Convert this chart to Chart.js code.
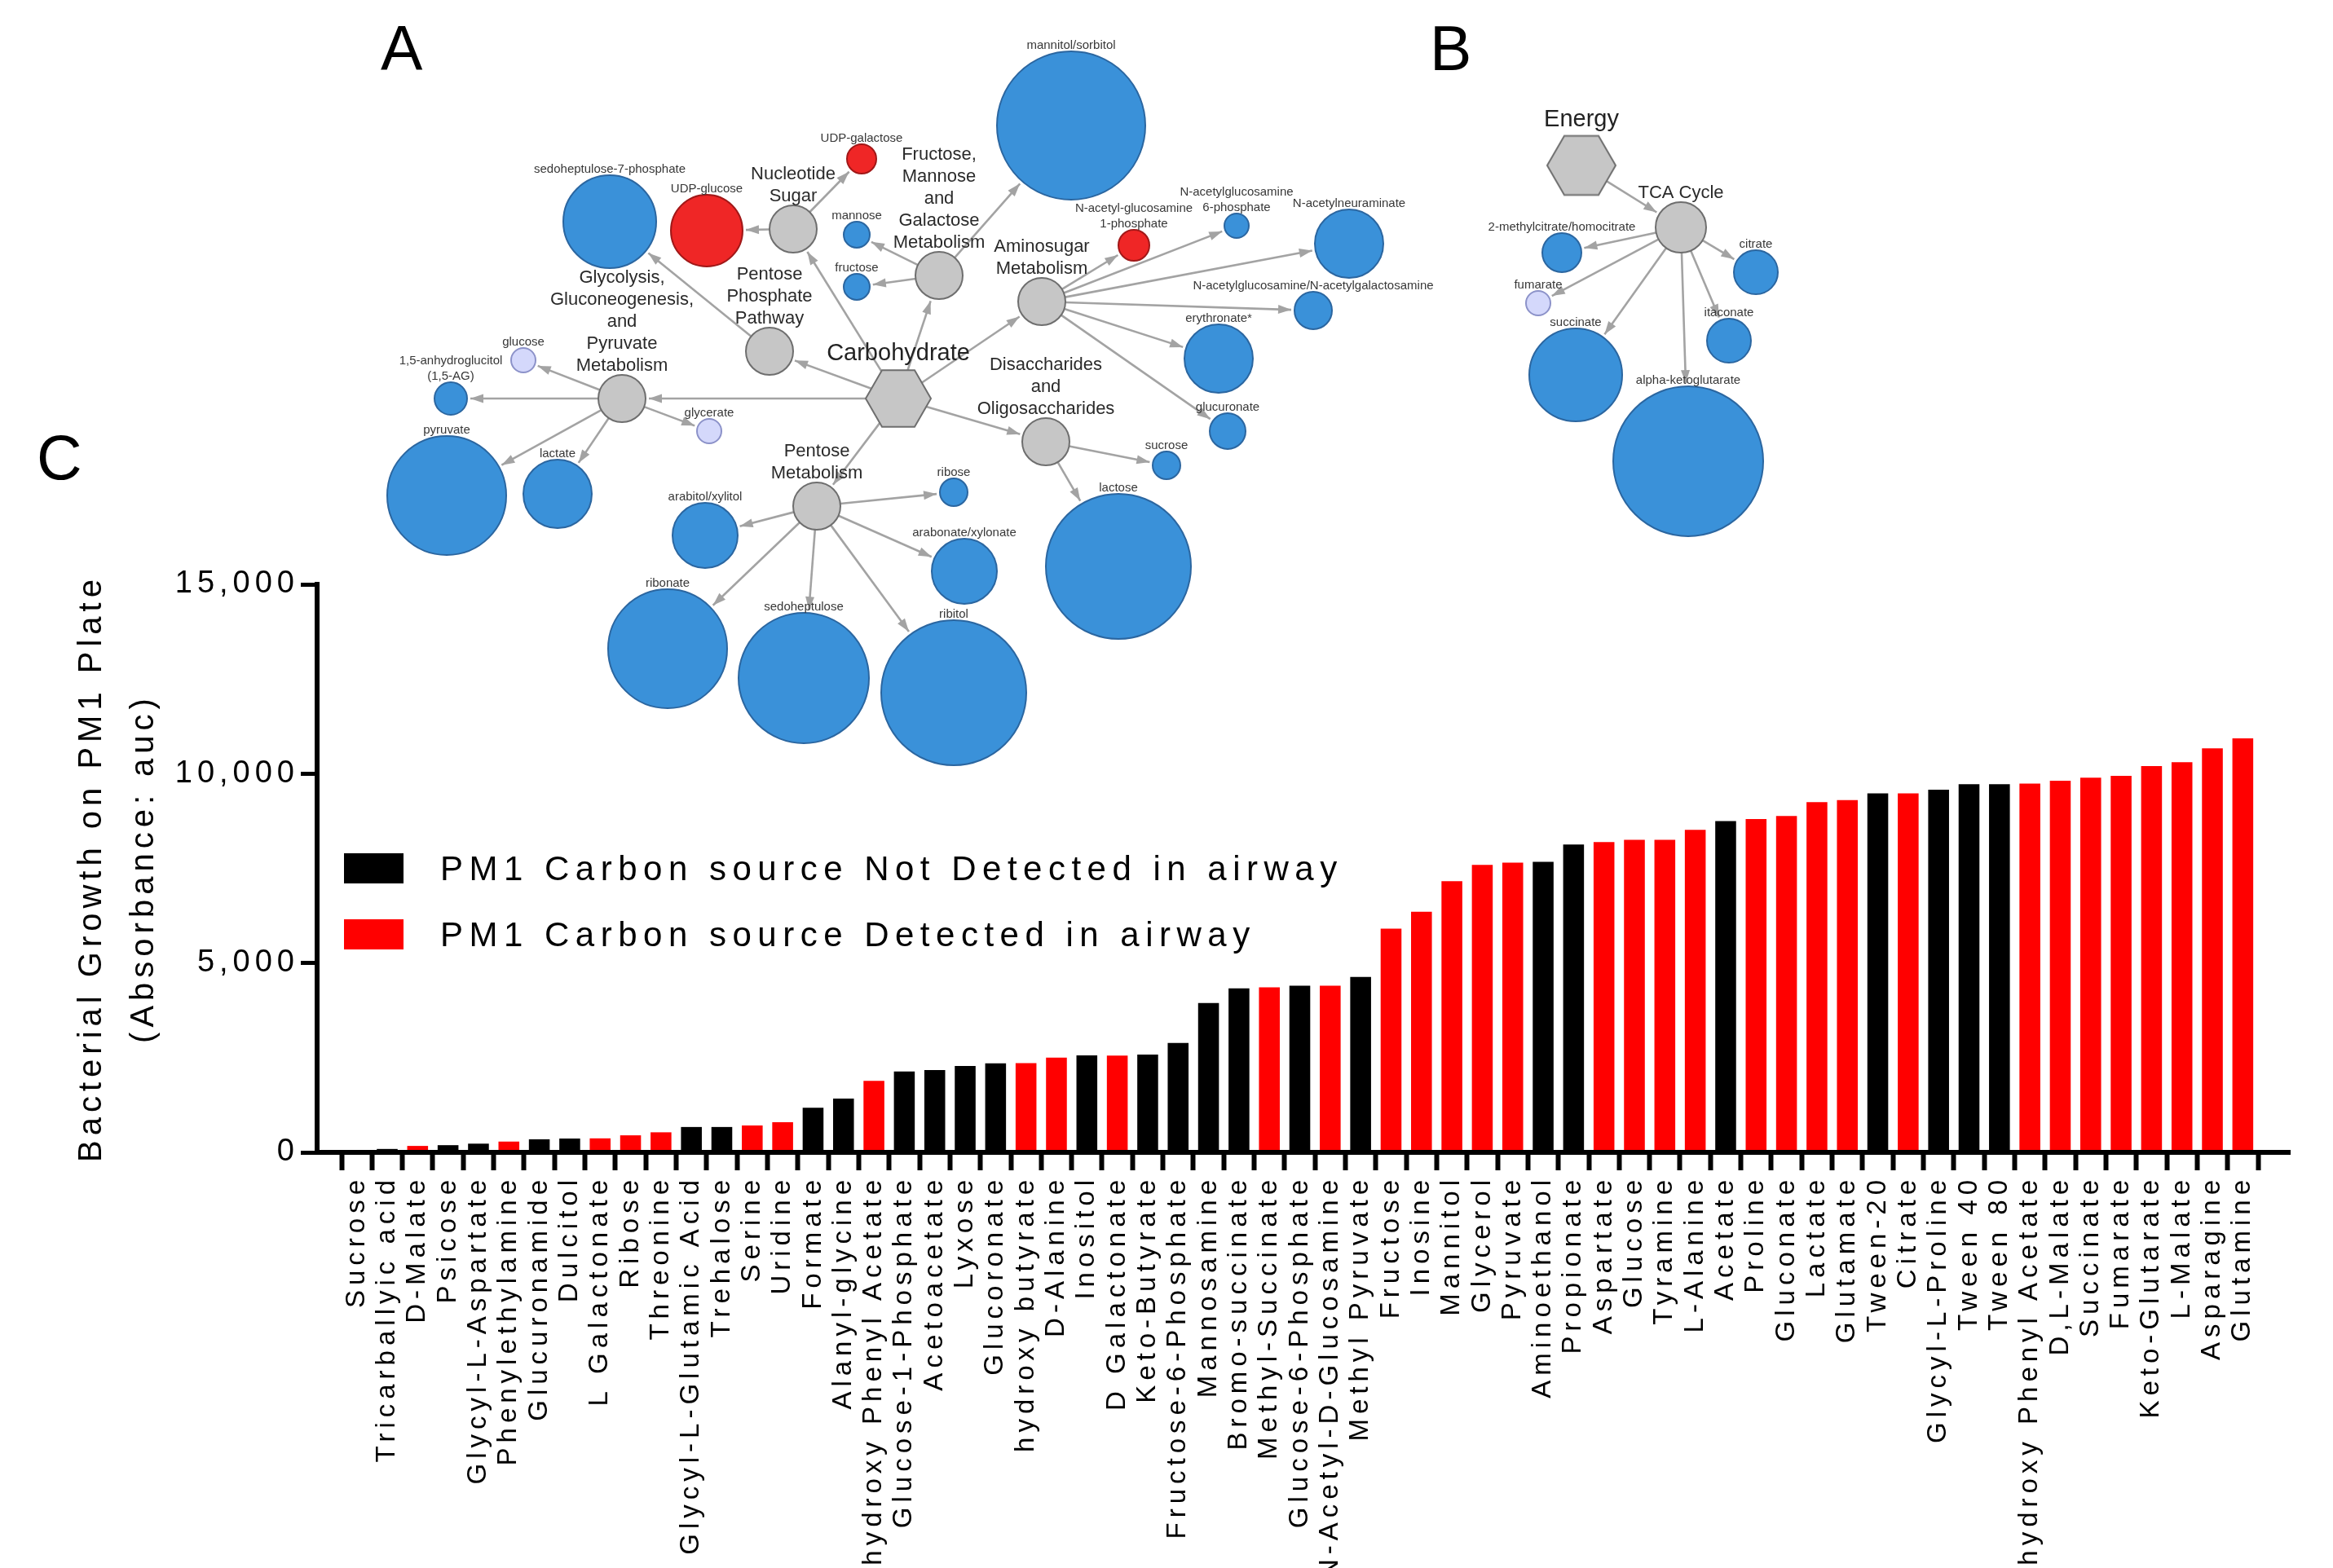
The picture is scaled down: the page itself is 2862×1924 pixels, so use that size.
<!DOCTYPE html>
<html><head><meta charset="utf-8">
<script src="https://cdn.jsdelivr.net/npm/chart.js@4.4.1/dist/chart.umd.min.js"></script>
<style>
html,body{margin:0;padding:0;background:#fff;}
#wrap{position:relative;width:2862px;height:1924px;overflow:hidden;background:#fff;}
canvas{position:absolute;left:0;top:0;}
#net{pointer-events:none;}
</style></head><body>
<div id="wrap"><canvas id="bars" width="2862" height="1924"></canvas><canvas id="net" width="2862" height="1924"></canvas></div>
<script>
// ---------------- Panel C data ----------------
const categories = ['Sucrose','Tricarballyic acid','D-Malate','Psicose','Glycyl-L-Aspartate','Phenylethylamine','Glucuronamide','Dulcitol','L Galactonate','Ribose','Threonine','Glycyl-L-Glutamic Acid','Trehalose','Serine','Uridine','Formate','Alanyl-glycine','m-hydroxy Phenyl Acetate','Glucose-1-Phosphate','Acetoacetate','Lyxose','Glucoronate','hydroxy butyrate','D-Alanine','Inositol','D Galactonate','Keto-Butyrate','Fructose-6-Phosphate','Mannosamine','Bromo-succinate','Methyl-Succinate','Glucose-6-Phosphate','N-Acetyl-D-Glucosamine','Methyl Pyruvate','Fructose','Inosine','Mannitol','Glycerol','Pyruvate','Aminoethanol','Propionate','Aspartate','Glucose','Tyramine','L-Alanine','Acetate','Proline','Gluconate','Lactate','Glutamate','Tween-20','Citrate','Glycyl-L-Proline','Tween 40','Tween 80','p-hydroxy Phenyl Acetate','D,L-Malate','Succinate','Fumarate','Keto-Glutarate','L-Malate','Asparagine','Glutamine'];
const growthValues = [10,90,170,190,230,285,345,365,370,450,530,670,670,710,795,1180,1420,1890,2135,2175,2280,2350,2355,2500,2560,2555,2585,2890,3945,4330,4360,4400,4400,4630,5905,6355,7160,7590,7650,7670,8130,8195,8255,8255,8515,8750,8800,8885,9250,9300,9480,9480,9575,9720,9720,9740,9815,9895,9940,10200,10305,10670,10930];
const detectedInAirway = [1,0,1,0,0,1,0,0,1,1,1,0,0,1,1,0,0,1,0,0,0,0,1,1,0,1,0,0,0,0,1,0,1,0,1,1,1,1,1,0,0,1,1,1,1,0,1,1,1,1,0,1,0,0,0,1,1,1,1,1,1,1,1];
const yTickValues = [0,5000,10000,15000];
const seriesLabels = ['PM1 Carbon source Not Detected in airway','PM1 Carbon source Detected in airway'];
const seriesColors = ['#000000','#ff0000'];
const yTitleLines = ['Bacterial Growth on PM1 Plate','(Absorbance: auc)'];

// ---------------- Panels A/B network data ----------------
const nodeIds = ['carb','glyc','ppp','nuc','fmg','amino','disac','pent','s7p','udpglc','glucose','ag','pyruvate','lactate','glycerate','udpgal','mannose','fructose','mannitol','nag1p','nag6p','neur','nagal','eryth','glucur','sucrose','lactose','ribose','arabitol','arabonate','ribonate','sedo','ribitol','energy','tca','mc','fum','succ','akg','cit','ita'];
const nodeLabels = ['Carbohydrate','Glycolysis,\nGluconeogenesis,\nand\nPyruvate\nMetabolism','Pentose\nPhosphate\nPathway','Nucleotide\nSugar','Fructose,\nMannose\nand\nGalactose\nMetabolism','Aminosugar\nMetabolism','Disaccharides\nand\nOligosaccharides','Pentose\nMetabolism','sedoheptulose-7-phosphate','UDP-glucose','glucose','1,5-anhydroglucitol\n(1,5-AG)','pyruvate','lactate','glycerate','UDP-galactose','mannose','fructose','mannitol/sorbitol','N-acetyl-glucosamine\n1-phosphate','N-acetylglucosamine\n6-phosphate','N-acetylneuraminate','N-acetylglucosamine/N-acetylgalactosamine','erythronate*','glucuronate','sucrose','lactose','ribose','arabitol/xylitol','arabonate/xylonate','ribonate','sedoheptulose','ribitol','Energy','TCA Cycle','2-methylcitrate/homocitrate','fumarate','succinate','alpha-ketoglutarate','citrate','itaconate'];
const nodeX = [1102,763,944,973,1152,1278,1283,1002,748,867,642,553,548,684,870,1057,1051,1051,1314,1391,1517,1655,1611,1495,1506,1431,1372,1170,865,1183,819,986,1170,1940,2062,1916,1887,1933,2071,2154,2121];
const nodeY = [489,489,431,281,338,370,542,621,272,283,442,489,608,606,529,195,288,352,154,301,277,299,381,440,529,571,695,604,657,701,796,832,850,203,279,310,372,460,566,334,418];
const nodeR = [40,29,29,29,29,29,29,29,57,44,15,20,73,42,15,18,16,16,91,19,15,42,23,42,22,17,89,17,40,40,73,80,89,42,31,24,15,57,92,27,27];
const nodeKind = ['hub','path','path','path','path','path','path','path','blue','red','lav','blue','blue','blue','lav','red','blue','blue','blue','red','blue','blue','blue','blue','blue','blue','blue','blue','blue','blue','blue','blue','blue','hub','path','blue','lav','blue','blue','blue','blue'];
const edgeFrom = ['carb','carb','carb','carb','carb','carb','carb','glyc','glyc','glyc','glyc','glyc','ppp','nuc','nuc','fmg','fmg','fmg','amino','amino','amino','amino','amino','amino','disac','disac','pent','pent','pent','pent','pent','pent','energy','tca','tca','tca','tca','tca','tca'];
const edgeTo = ['glyc','ppp','nuc','fmg','amino','disac','pent','glucose','ag','pyruvate','lactate','glycerate','s7p','udpglc','udpgal','mannose','fructose','mannitol','nag1p','nag6p','neur','nagal','eryth','glucur','sucrose','lactose','arabitol','ribose','arabonate','ribonate','sedo','ribitol','tca','mc','fum','succ','akg','cit','ita'];

const FONT = '"Liberation Sans", Arial, Helvetica, sans-serif';

// ---------------- Bar chart (panel C) ----------------
const notDetectedData = [], detectedData = [];
growthValues.forEach((v, i) => (detectedInAirway[i] ? detectedData : notDetectedData).push({x: i, y: v}));

const spacingPlugin = {
  id: 'spacing',
  beforeUpdate(chart) { chart.ctx.letterSpacing = '6px'; },
  beforeDraw(chart) {
    chart.ctx.letterSpacing = '6px';
    const c = chart.ctx; c.save(); c.fillStyle = '#fff'; c.fillRect(0, 0, chart.width, chart.height); c.restore();
  },
  afterDraw(chart) {
    const c = chart.ctx;
    c.save();
    c.letterSpacing = '7.5px';
    c.font = '42px ' + FONT;
    c.textBaseline = 'middle';
    c.textAlign = 'left';
    chart.data.datasets.forEach((ds, i) => {
      const y = 1047 + i * 81;
      c.fillStyle = ds.backgroundColor;
      c.fillRect(422, y, 73, 37);
      c.fillStyle = '#000';
      c.fillText(ds.label, 540, y + 21);
    });
    c.letterSpacing = '0px';
    c.font = '77px ' + FONT;
    c.textBaseline = 'alphabetic';
    c.fillText('C', 45, 588);
    c.restore();
  }
};

new Chart(document.getElementById('bars'), {
  type: 'bar',
  data: {
    datasets: [
      {label: seriesLabels[0], data: notDetectedData, backgroundColor: seriesColors[0], grouped: false, barPercentage: 0.685, categoryPercentage: 1},
      {label: seriesLabels[1], data: detectedData, backgroundColor: seriesColors[1], grouped: false, barPercentage: 0.685, categoryPercentage: 1}
    ]
  },
  options: {
    responsive: false, animation: false, devicePixelRatio: 1, events: [],
    layout: {autoPadding: false, padding: {left: 0, top: 717, right: 53, bottom: 0}},
    plugins: {legend: {display: false}, tooltip: {enabled: false}},
    scales: {
      x: {
        type: 'linear', bounds: 'data', min: -0.79, max: 63.03,
        afterBuildTicks: s => { s.ticks = categories.map((c, i) => ({value: i})); },
        afterFit: s => { s.height = 510; },
        ticks: {autoSkip: false, maxRotation: 90, minRotation: 90, padding: 6, color: '#000',
          font: {family: FONT, size: 33}, callback: v => categories[v]},
        grid: {display: true, drawOnChartArea: false, drawTicks: true, tickLength: 22, tickWidth: 6, tickColor: '#000', z: 1},
        border: {display: true, color: '#000', width: 6, z: 2}
      },
      y: {
        type: 'linear', min: 0, max: 15000,
        afterBuildTicks: s => { s.ticks = yTickValues.map(v => ({value: v})); },
        afterFit: s => { s.width = 389; },
        ticks: {padding: 2, color: '#000', font: {family: FONT, size: 38}, callback: v => v.toLocaleString('en-US')},
        grid: {display: true, drawOnChartArea: false, drawTicks: true, tickLength: 20, tickWidth: 5, tickColor: '#000', z: 1},
        border: {display: true, color: '#000', width: 6, z: 2},
        title: {display: true, text: yTitleLines, color: '#000', padding: {top: 81, bottom: 0},
          font: {family: FONT, size: 40, lineHeight: '64px'}}
      }
    }
  },
  plugins: [spacingPlugin]
});

// ---------------- Network chart (panels A, B) ----------------
const kindStyle = {
  hub:  {fill: '#c6c6c6', stroke: '#6e6e6e'},
  path: {fill: '#c6c6c6', stroke: '#6e6e6e'},
  blue: {fill: '#3a91d9', stroke: '#2b66a0'},
  red:  {fill: '#ef2626', stroke: '#a11818'},
  lav:  {fill: '#d4d8fb', stroke: '#8c92c9'}
};
function hexCanvas(R) {
  const w = Math.ceil(2 * R) + 4, h = Math.ceil(Math.sqrt(3) * R) + 4;
  const c = document.createElement('canvas'); c.width = w; c.height = h;
  const g = c.getContext('2d'); g.translate(w / 2, h / 2);
  g.beginPath();
  for (let k = 0; k < 6; k++) { const a = Math.PI / 3 * k; g.lineTo(R * Math.cos(a), R * Math.sin(a)); }
  g.closePath(); g.fillStyle = kindStyle.hub.fill; g.fill();
  g.lineWidth = 2; g.strokeStyle = kindStyle.hub.stroke; g.stroke();
  return c;
}
const netDatasets = ['path', 'blue', 'red', 'lav', 'hub'].map(kind => {
  const idx = nodeKind.map((k, i) => k === kind ? i : -1).filter(i => i >= 0);
  return {
    label: kind,
    data: idx.map(i => ({x: nodeX[i], y: nodeY[i], r: nodeR[i]})),
    backgroundColor: kindStyle[kind].fill,
    borderColor: kindStyle[kind].stroke,
    borderWidth: 2,
    clip: false,
    pointStyle: kind === 'hub' ? idx.map(i => hexCanvas(nodeR[i])) : 'circle'
  };
});

const netPlugin = {
  id: 'net',
  beforeDatasetsDraw(chart) {
    const c = chart.ctx, xs = chart.scales.x, ys = chart.scales.y;
    c.save();
    c.strokeStyle = '#a3a3a3'; c.fillStyle = '#a3a3a3'; c.lineWidth = 2.6;
    edgeFrom.forEach((f, k) => {
      const a = nodeIds.indexOf(f), b = nodeIds.indexOf(edgeTo[k]);
      const x1 = xs.getPixelForValue(nodeX[a]), y1 = ys.getPixelForValue(nodeY[a]);
      const x2 = xs.getPixelForValue(nodeX[b]), y2 = ys.getPixelForValue(nodeY[b]);
      const L = Math.hypot(x2 - x1, y2 - y1), ux = (x2 - x1) / L, uy = (y2 - y1) / L;
      const rs = nodeKind[a] === 'hub' ? nodeR[a] * 0.85 : nodeR[a];
      const rt = nodeKind[b] === 'hub' ? nodeR[b] * 0.85 : nodeR[b];
      const sx = x1 + ux * rs, sy = y1 + uy * rs;
      const ex = x2 - ux * (rt + 4), ey = y2 - uy * (rt + 4);
      c.beginPath(); c.moveTo(sx, sy); c.lineTo(ex, ey); c.stroke();
      const bx = ex - ux * 16, by = ey - uy * 16;
      c.beginPath(); c.moveTo(ex, ey);
      c.lineTo(bx - uy * 5.5, by + ux * 5.5); c.lineTo(bx + uy * 5.5, by - ux * 5.5);
      c.closePath(); c.fill();
    });
    c.restore();
  },
  afterDatasetsDraw(chart) {
    const c = chart.ctx, xs = chart.scales.x, ys = chart.scales.y;
    c.save();
    c.textAlign = 'center'; c.textBaseline = 'alphabetic';
    nodeLabels.forEach((txt, i) => {
      const kind = nodeKind[i];
      const cx = xs.getPixelForValue(nodeX[i]), cy = ys.getPixelForValue(nodeY[i]);
      let size, lh, top, gap, color;
      if (kind === 'hub') { size = 29; lh = 34; top = cy - Math.sqrt(3) / 2 * nodeR[i]; gap = 12; color = '#222'; }
      else if (kind === 'path') { size = 22; lh = 27; top = cy - nodeR[i]; gap = 5; color = '#2a2a2a'; }
      else { size = 15; lh = 19; top = cy - nodeR[i]; gap = 3; color = '#383838'; }
      c.font = size + 'px ' + FONT; c.fillStyle = color;
      const lines = txt.split('\n');
      lines.forEach((ln, j) => { c.fillText(ln, cx, top - gap - (lines.length - 1 - j) * lh); });
    });
    c.fillStyle = '#000'; c.textAlign = 'left';
    c.font = '77px ' + FONT;
    c.fillText('A', 467, 86);
    c.fillText('B', 1754, 86);
    c.restore();
  }
};

new Chart(document.getElementById('net'), {
  type: 'bubble',
  data: {datasets: netDatasets},
  options: {
    responsive: false, animation: false, devicePixelRatio: 1, events: [],
    layout: {autoPadding: false, padding: 0},
    plugins: {legend: {display: false}, tooltip: {enabled: false}},
    scales: {
      x: {type: 'linear', min: 0, max: 2862, display: false},
      y: {type: 'linear', min: 0, max: 1924, reverse: true, display: false}
    }
  },
  plugins: [netPlugin]
});
</script>
</body></html>
